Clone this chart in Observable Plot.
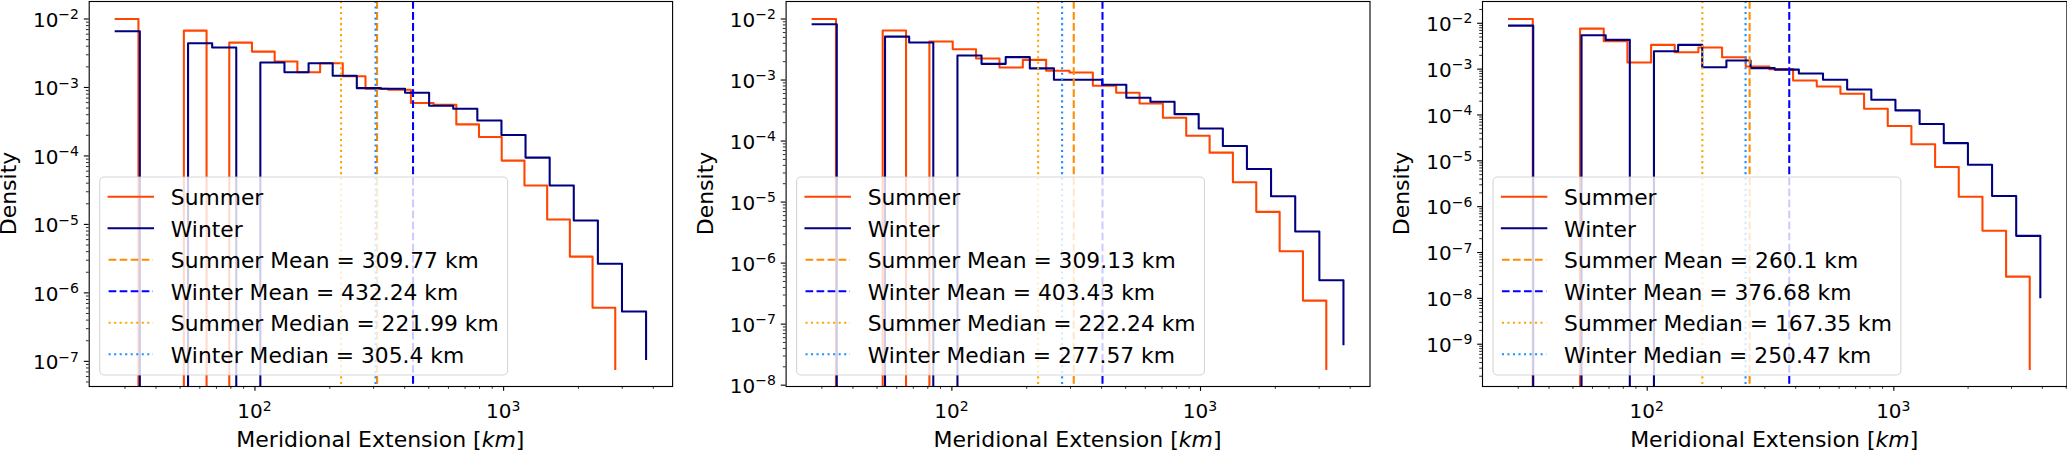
<!DOCTYPE html>
<html><head><meta charset="utf-8">
<script src="https://cdn.jsdelivr.net/npm/d3@7"></script>
<script src="https://cdn.jsdelivr.net/npm/@observablehq/plot@0.6"></script>
<style>
html,body{margin:0;padding:0;background:#fff;}
#chart{position:relative;width:2067px;height:452px;overflow:hidden;background:#fff;}
#chart svg{position:absolute;top:0;}
</style></head><body><div id="chart"></div>
<script>
// ---------------- data ----------------
const xTickValues = [100, 1000];
const p1YTicks = [1e-2, 1e-3, 1e-4, 1e-5, 1e-6, 1e-7];
const p2YTicks = [1e-2, 1e-3, 1e-4, 1e-5, 1e-6, 1e-7, 1e-8];
const p3YTicks = [1e-2, 1e-3, 1e-4, 1e-5, 1e-6, 1e-7, 1e-8, 1e-9];

const seasons = ["Summer", "Winter"];

// Panel 1
const p1SummerEdges = [27.54, 33.99, 41.95, 51.76, 63.88, 78.83, 97.25, 120.0, 148.1, 182.8, 225.5, 278.3, 343.4, 423.8, 522.9, 645.3, 796.2, 982.6, 1213, 1497, 1847, 2279, 2812];
const p1SummerDensity = [1.00e-2, 0, 0, 6.76e-3, 0, 4.52e-3, 3.34e-3, 2.39e-3, 1.67e-3, 2.26e-3, 1.46e-3, 9.57e-4, 9.25e-4, 5.92e-4, 5.60e-4, 2.89e-4, 1.89e-4, 8.55e-5, 3.70e-5, 1.18e-5, 3.38e-6, 6.05e-7];
const p1SummerTail = 7.73e-8;
const p1WinterEdges = [27.54, 34.43, 43.05, 53.82, 67.28, 84.10, 105.1, 131.4, 164.3, 205.4, 256.8, 321.0, 401.3, 501.6, 627.1, 784.0, 980.2, 1225, 1532, 1915, 2394, 2993, 3741];
const p1WinterDensity = [6.61e-3, 0, 0, 4.43e-3, 3.83e-3, 0, 2.31e-3, 1.67e-3, 2.26e-3, 1.48e-3, 9.77e-4, 9.57e-4, 8.36e-4, 5.41e-4, 4.89e-4, 3.30e-4, 2.02e-4, 9.46e-5, 3.70e-5, 1.14e-5, 2.67e-6, 5.35e-7];
const p1WinterTail = 1.08e-7;
const p1Means = [309.77, 432.24];
const p1Medians = [221.99, 305.4];

// Panel 2
const p2SummerEdges = [27.54, 34.19, 42.45, 52.69, 65.41, 81.20, 100.8, 125.1, 155.4, 192.9, 239.4, 297.2, 368.9, 458.0, 568.6, 705.8, 876.1, 1088, 1350, 1676, 2081, 2583, 3206];
const p2SummerDensity = [1.00e-2, 0, 0, 6.46e-3, 0, 4.27e-3, 3.20e-3, 2.25e-3, 1.60e-3, 2.14e-3, 1.42e-3, 1.33e-3, 8.04e-4, 6.18e-4, 4.13e-4, 2.41e-4, 1.22e-4, 6.46e-5, 2.11e-5, 6.92e-6, 1.56e-6, 2.43e-7];
const p2SummerTail = 1.84e-8;
const p2WinterEdges = [27.54, 34.44, 43.06, 53.84, 67.33, 84.19, 105.3, 131.6, 164.6, 205.8, 257.3, 321.8, 402.3, 503.0, 628.9, 786.4, 983.3, 1230, 1537, 1922, 2404, 3006, 3758];
const p2WinterDensity = [8.18e-3, 0, 0, 5.14e-3, 4.11e-3, 0, 2.52e-3, 1.84e-3, 2.37e-3, 1.55e-3, 1.01e-3, 1.01e-3, 8.36e-4, 5.12e-4, 4.40e-4, 2.76e-4, 1.61e-4, 8.30e-5, 3.49e-5, 1.25e-5, 3.30e-6, 5.24e-7];
const p2WinterTail = 4.71e-8;
const p2Means = [309.13, 403.43];
const p2Medians = [222.24, 277.57];

// Panel 3
const p3SummerEdges = [27.54, 34.36, 42.85, 53.45, 66.66, 83.15, 103.7, 129.3, 161.3, 201.2, 250.9, 313.0, 390.4, 486.9, 607.3, 757.4, 944.7, 1178, 1470, 1833, 2287, 2852, 3556];
const p3SummerDensity = [1.24e-2, 0, 0, 7.66e-3, 4.06e-3, 1.39e-3, 3.38e-3, 2.34e-3, 2.96e-3, 1.82e-3, 1.14e-3, 1.00e-3, 5.66e-4, 4.19e-4, 2.90e-4, 1.37e-4, 5.74e-5, 2.29e-5, 7.36e-6, 1.64e-6, 2.99e-7, 2.98e-8];
const p3SummerTail = 2.88e-10;
const p3WinterEdges = [27.54, 34.51, 43.23, 54.17, 67.86, 85.03, 106.5, 133.5, 167.2, 209.5, 262.5, 328.9, 412.0, 516.2, 646.8, 810.5, 1015, 1272, 1594, 1997, 2502, 3134, 3926];
const p3WinterDensity = [8.89e-3, 0, 0, 5.48e-3, 4.34e-3, 0, 2.46e-3, 3.38e-3, 1.10e-3, 1.54e-3, 1.05e-3, 9.77e-4, 8.04e-4, 5.85e-4, 3.61e-4, 2.15e-4, 1.26e-4, 6.38e-5, 2.43e-5, 8.18e-6, 1.71e-6, 2.31e-7];
const p3WinterTail = 1.06e-8;
const p3Means = [260.1, 376.68];
const p3Medians = [167.35, 250.47];

// ---------------- layout / style ----------------
const FONT = "'DejaVu Sans', sans-serif";
const COLORS = {summer: "#FF4500", winter: "#000080", summerMean: "#FF8C00", winterMean: "#0000FF", summerMedian: "#FFA500", winterMedian: "#1E90FF"};
const LW = 2.08;
const DASHED = "7.7,3.33";
const DOTTED = "2.08,3.44";
const H = 452, MT = 1, MB = 66;

const panels = [
  {left: 0,    width: 682, spineL: 88.7,   spineR: 672.1,  yTicks: p1YTicks,
   s: [p1SummerEdges, p1SummerDensity, p1SummerTail], w: [p1WinterEdges, p1WinterDensity, p1WinterTail], means: p1Means, medians: p1Medians},
  {left: 690,  width: 690, spineL: 785.6,  spineR: 1369.5, yTicks: p2YTicks,
   s: [p2SummerEdges, p2SummerDensity, p2SummerTail], w: [p2WinterEdges, p2WinterDensity, p2WinterTail], means: p2Means, medians: p2Medians},
  {left: 1385, width: 682, spineL: 1482.0, spineR: 2066.4, yTicks: p3YTicks,
   s: [p3SummerEdges, p3SummerDensity, p3SummerTail], w: [p3WinterEdges, p3WinterDensity, p3WinterTail], means: p3Means, medians: p3Medians}
];

const FLOOR = 1e-30; // empty bins: the step drops below the frame (clipped)

function stepPoints([edges, dens, tail]) {
  const pts = dens.map((d, i) => ({x: edges[i], y: d > 0 ? d : FLOOR}));
  const last = dens[dens.length - 1];
  pts.push({x: edges[edges.length - 1], y: last > 0 ? last : FLOOR});
  pts.push({x: edges[edges.length - 1], y: tail});
  return pts;
}

function minorTicks(lo, hi) {
  const out = [];
  for (let k = Math.floor(Math.log10(lo)) - 1; k <= Math.ceil(Math.log10(hi)); k++)
    for (let m = 2; m <= 9; m++) { const v = m * Math.pow(10, k); if (v >= lo && v <= hi) out.push(v); }
  return out;
}

const supExp = v => String(Math.round(Math.log10(v))).replace("-", "\u2212");

const chart = document.getElementById("chart");

panels.forEach(p => {
  // matplotlib-style autoscale (5% margins in log space)
  const allEdges = p.s[0].concat(p.w[0]);
  const xl = Math.log10(d3.min(allEdges)), xh = Math.log10(d3.max(allEdges));
  const xm = 0.05 * (xh - xl);
  const pos = p.s[1].concat(p.w[1], [p.s[2], p.w[2]]).filter(d => d > 0);
  const yl = Math.log10(d3.min(pos)), yh = Math.log10(d3.max(pos));
  const ym = 0.05 * (yh - yl);
  const xDom = [Math.pow(10, xl - xm), Math.pow(10, xh + xm)];
  const yDom = [Math.pow(10, yl - ym), Math.pow(10, yh + ym)];

  const marginLeft = p.spineL - p.left;
  const marginRight = p.left + p.width - p.spineR;

  const svg = Plot.plot({
    width: p.width, height: H,
    marginLeft, marginRight, marginTop: MT, marginBottom: MB,
    style: {fontFamily: FONT, fontSize: "20px", background: "transparent", overflow: "visible"},
    x: {type: "log", domain: xDom, label: null},
    y: {type: "log", domain: yDom, label: null},
    marks: [
      Plot.line(stepPoints(p.s), {x: "x", y: "y", curve: "step-after", stroke: COLORS.summer, strokeWidth: LW, strokeLinejoin: "round", strokeLinecap: "square", clip: true}),
      Plot.line(stepPoints(p.w), {x: "x", y: "y", curve: "step-after", stroke: COLORS.winter, strokeWidth: LW, strokeLinejoin: "round", strokeLinecap: "square", clip: true}),
      Plot.ruleX([p.means[0]], {stroke: COLORS.summerMean, strokeWidth: LW, strokeDasharray: DASHED}),
      Plot.ruleX([p.means[1]], {stroke: COLORS.winterMean, strokeWidth: LW, strokeDasharray: DASHED}),
      Plot.ruleX([p.medians[0]], {stroke: COLORS.summerMedian, strokeWidth: LW, strokeDasharray: DOTTED}),
      Plot.ruleX([p.medians[1]], {stroke: COLORS.winterMedian, strokeWidth: LW, strokeDasharray: DOTTED}),
      Plot.axisX(minorTicks(xDom[0], xDom[1]), {tickSize: 2.78, tickFormat: () => "", strokeWidth: 0.83, label: null}),
      Plot.axisX(xTickValues, {tickSize: 4.86, tickFormat: () => "", strokeWidth: 1.11, label: null}),
      Plot.axisY(minorTicks(yDom[0], yDom[1]), {tickSize: 2.78, tickFormat: () => "", strokeWidth: 0.83, label: null}),
      Plot.axisY(p.yTicks, {tickSize: 4.86, tickFormat: () => "", strokeWidth: 1.11, label: null}),
      Plot.frame({stroke: "black", strokeWidth: 1.11})
    ]
  });
  svg.style.left = p.left + "px";
  chart.appendChild(svg);

  const sx = svg.scale("x"), sy = svg.scale("y");
  const root = d3.select(svg).append("g").attr("font-family", FONT).attr("fill", "black").attr("text-anchor", "start");
  const spineL = marginLeft, spineR = p.width - marginRight, spineB = H - MB;

  // x tick labels
  xTickValues.forEach(v => {
    const t = root.append("text").attr("x", sx.apply(v)).attr("y", 418).attr("text-anchor", "middle").attr("font-size", 20);
    t.append("tspan").text("10");
    t.append("tspan").attr("dy", -7.5).attr("font-size", 14).text(supExp(v));
  });
  // y tick labels
  p.yTicks.forEach(v => {
    const t = root.append("text").attr("x", spineL - 9.7).attr("y", sy.apply(v) + 8.2).attr("text-anchor", "end").attr("font-size", 20);
    t.append("tspan").text("10");
    t.append("tspan").attr("dy", -7.5).attr("font-size", 14).text(supExp(v));
  });
  // axis titles
  const xl2 = root.append("text").attr("x", (spineL + spineR) / 2).attr("y", 447).attr("text-anchor", "middle").attr("font-size", 22);
  xl2.append("tspan").text("Meridional Extension [");
  xl2.append("tspan").attr("font-style", "italic").text("km");
  xl2.append("tspan").text("]");
  root.append("text").attr("transform", `translate(${spineL - 72.7},${(MT + spineB) / 2}) rotate(-90)`)
    .attr("text-anchor", "middle").attr("font-size", 22).text("Density");

  // legend
  const items = [
    {label: seasons[0], color: COLORS.summer, dash: null},
    {label: seasons[1], color: COLORS.winter, dash: null},
    {label: `${seasons[0]} Mean = ${p.means[0]} km`, color: COLORS.summerMean, dash: DASHED},
    {label: `${seasons[1]} Mean = ${p.means[1]} km`, color: COLORS.winterMean, dash: DASHED},
    {label: `${seasons[0]} Median = ${p.medians[0]} km`, color: COLORS.summerMedian, dash: DOTTED},
    {label: `${seasons[1]} Median = ${p.medians[1]} km`, color: COLORS.winterMedian, dash: DOTTED}
  ];
  const fs = 21.8;
  const boxL = spineL + 11, boxB = spineB - 11, boxH = 198, boxT = boxB - boxH;
  const lg = root.append("g").attr("font-size", fs).attr("text-anchor", "start");
  const rect = lg.append("rect");
  let maxLen = 0;
  items.forEach((it, i) => {
    const base = boxT + 28 + i * 31.5;
    const ln = lg.append("line").attr("x1", boxL + 8.9).attr("x2", boxL + 8.9 + 44.4)
      .attr("y1", base - 8.3).attr("y2", base - 8.3).attr("stroke", it.color).attr("stroke-width", LW);
    if (it.dash) ln.attr("stroke-dasharray", it.dash); else ln.attr("stroke-linecap", "square");
    const t = lg.append("text").attr("x", boxL + 71.1).attr("y", base).attr("text-anchor", "start").text(it.label);
    maxLen = Math.max(maxLen, t.node().getComputedTextLength());
  });
  rect.attr("x", boxL).attr("y", boxT).attr("width", 71.1 + maxLen + 8.9).attr("height", boxH)
    .attr("rx", 4.4).attr("fill", "white").attr("fill-opacity", 0.8)
    .attr("stroke", "#cccccc").attr("stroke-opacity", 0.8).attr("stroke-width", 1.1);
});
</script></body></html>
